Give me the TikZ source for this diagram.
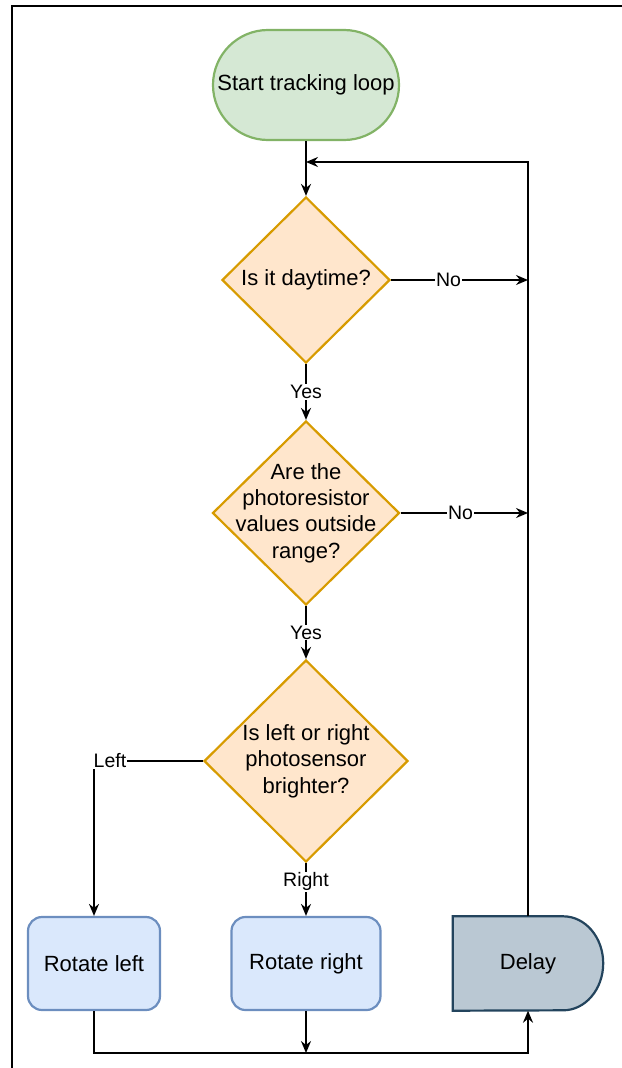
\documentclass[tikz,border=0pt]{standalone}
\usepackage{fontspec}
\setmainfont{Liberation Sans}
\usetikzlibrary{arrows.meta,shapes.geometric}
\definecolor{gfill}{HTML}{D5E8D4}
\definecolor{gstroke}{HTML}{82B366}
\definecolor{ofill}{HTML}{FFE6CC}
\definecolor{ostroke}{HTML}{D79B00}
\definecolor{bfill}{HTML}{DAE8FC}
\definecolor{bstroke}{HTML}{6C8EBF}
\definecolor{dfill}{HTML}{BAC8D3}
\definecolor{dstroke}{HTML}{23445D}
\pgfdeclarelayer{background}
\pgfsetlayers{background,main}
\begin{document}
\begin{tikzpicture}[x=1pt,y=-1pt,
  nodetext/.style={font=\fontsize{22}{26.4}\selectfont, align=center, text=black},
  lbl/.style={font=\fontsize{19.5}{23}\selectfont, fill=white, inner sep=1pt, text=black},
  arr/.style={line width=1.8pt, -{Stealth[length=12pt,width=10pt,inset=4pt]}},
  terminal/.style={nodetext, draw=gstroke, fill=gfill, line width=2.2pt, rounded corners=55pt, minimum width=186pt, minimum height=110pt, inner sep=0pt},
  decision/.style={diamond, draw=ostroke, fill=ofill, line width=2.2pt, inner sep=0pt, aspect=1},
  dtext/.style={nodetext},
  process/.style={nodetext, draw=bstroke, fill=bfill, line width=2.2pt, rounded corners=14pt, minimum height=93pt, inner sep=0pt},
  delaybox/.style={nodetext, minimum width=150pt, minimum height=94pt, inner sep=0pt},
  frame/.style={line width=2.4pt, draw=black}
]
\useasboundingbox (0,0) rectangle (621,1068);
\draw[frame] (12,1070) -- (12,6) -- (623,6);

\node[terminal] (start) at (306,85) {Start tracking loop};

\node[decision, minimum width=168pt, minimum height=166pt,
  label={[dtext]center:Is it daytime?}] (d1) at (306,280) {};
\node[decision, minimum width=187pt, minimum height=184pt,
  label={[dtext]center:{Are the\\photoresistor\\values outside\\range?}}] (d2) at (306,513) {};
\node[decision, minimum width=204pt, minimum height=202pt,
  label={[dtext]center:{Is left or right\\photosensor\\brighter?}}] (d3) at (306,761) {};

\node[process, minimum width=132pt] (rl) at (94,963.5) {Rotate left};
\node[process, minimum width=149pt] (rr) at (306,963.5) {Rotate right};
\node[delaybox] (delay) at (528,963.5) {Delay};
\begin{pgfonlayer}{background}
\draw[draw=dstroke, fill=dfill, line width=2.2pt]
  (delay.north west) -- ([xshift=-40pt]delay.north east)
  arc[start angle=90, end angle=-90, x radius=40pt, y radius=47pt]
  -- (delay.south west) -- cycle;
\end{pgfonlayer}

\coordinate (j1) at (528,280);
\coordinate (j2) at (528,513);
\coordinate (lt) at (528,162);
\coordinate (lm) at (306,162);
\coordinate (bl) at (94,1053);
\coordinate (bm) at (306,1053);
\coordinate (br) at (528,1053);

\draw[arr] (start.south) -- (d1.north);
\draw[arr] (d1.east) -- node[lbl, pos=0.42]{No} (j1);
\draw[arr] (d1.south) -- node[lbl]{Yes} (d2.north);
\draw[arr] (d2.east) -- node[lbl, pos=0.47]{No} (j2);
\draw[arr] (d2.south) -- node[lbl]{Yes} (d3.north);
\draw[arr] (d3.west) -| node[lbl, pos=0.5, xshift=16pt]{Left} (rl.north);
\draw[arr] (d3.south) -- node[lbl, pos=0.35]{Right} (rr.north);
\draw[arr] (rl.south) -- (bl) -- (br) -- (delay.south);
\draw[arr] (rr.south) -- (bm);
\draw[arr] (delay.north) -- (lt) -- (lm);
\end{tikzpicture}
\end{document}
